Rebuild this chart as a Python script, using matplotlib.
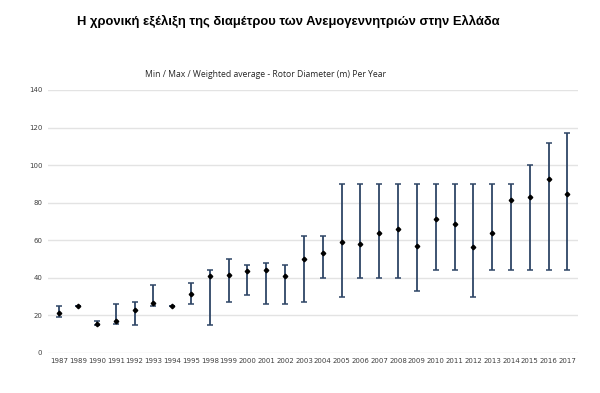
import matplotlib.pyplot as plt
import numpy as np

# rotor diameter per year (m): min / weighted avg / max
years = ["1987", "1989", "1990", "1991", "1992", "1993", "1994", "1995",
         "1998", "1999", "2000", "2001", "2002", "2003", "2004", "2005",
         "2006", "2007", "2008", "2009", "2010", "2011", "2012", "2013",
         "2014", "2015", "2016", "2017"]
d_min = [19, 25, 15, 15.5, 15, 25, 25, 26,
         15, 27, 31, 26, 26, 27, 40, 30,
         40, 40, 40, 33, 44, 44, 30, 44,
         44, 44, 44, 44]
d_avg = [21.5, 25, 15.5, 17, 23, 26.5, 25, 31.5,
         41, 41.5, 43.5, 44, 41, 50, 53, 59,
         58, 64, 66, 56.8, 71.5, 68.5, 56.2, 63.7,
         81.4, 83.2, 92.6, 84.5]
d_max = [25, 25, 17, 26, 27, 36, 25, 37,
         44, 50, 47, 48, 47, 62, 62, 90,
         90, 90, 90, 90, 90, 90, 90, 90,
         90, 100, 112, 117]

x = np.arange(len(years))
avg = np.array(d_avg)
lo = avg - np.array(d_min)
hi = np.array(d_max) - avg

fig = plt.figure(figsize=(6, 3.93), dpi=100)
ax = fig.add_axes([0.08, 0.102, 0.883, 0.669])

ax.errorbar(x, avg, yerr=[lo, hi], fmt="none", ecolor="#2E4566",
            elinewidth=1.3, capsize=2.0, capthick=1.1, zorder=3)
ax.plot(x, avg, "D", color="black", markersize=2.3, zorder=4)

ax.set_ylim(0, 140)
ax.set_xlim(-0.6, len(years) - 0.45)
ax.set_yticks(range(0, 141, 20))
ax.set_xticks(x)
ax.set_xticklabels(years)
ax.grid(axis="y", color="#E3E3E3", linewidth=1)
ax.set_axisbelow(True)
for s in ax.spines.values():
    s.set_visible(False)
ax.tick_params(length=0, labelsize=5.0, labelcolor="#404040", pad=4)

title = fig.text(0.48, 0.945, "Η χρονική εξέλιξη της διαμέτρου των Ανεμογεννητριών στην Ελλάδα",
                 ha="center", va="center", fontsize=9.4, fontweight="bold",
                 family=["Liberation Sans", "DejaVu Sans"])
title.set_fontstretch("condensed")
fig.text(0.443, 0.81, "Min / Max / Weighted average - Rotor Diameter (m) Per Year",
         ha="center", va="center", fontsize=6.2, color="#262626",
         family=["Open Sans", "DejaVu Sans"])

fig.savefig("out.png", dpi=100)
